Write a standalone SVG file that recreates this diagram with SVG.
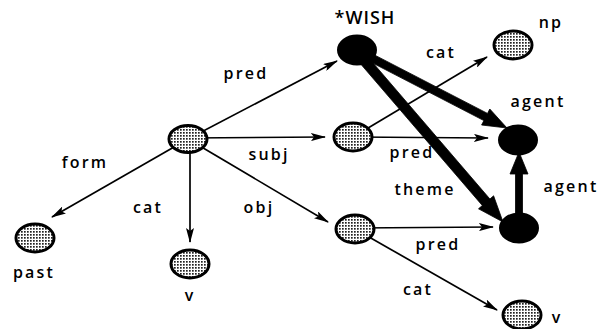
<svg xmlns="http://www.w3.org/2000/svg" width="603" height="329" viewBox="0 0 603 329">
<style>
.lbl{font-family:"Open Sans","DejaVu Sans",sans-serif;font-weight:600;font-size:16px;letter-spacing:2.2px;fill:#000;text-anchor:middle}
.big{font-size:18px;letter-spacing:1px}
.g{fill:url(#dots);stroke:#000;stroke-width:3}
.b{fill:#000;stroke:#000;stroke-width:2}
.thin{stroke:#000;stroke-width:1.7;fill:none;marker-end:url(#ah)}
.thick{fill:#000;stroke:#000;stroke-width:0.8;stroke-linejoin:miter}
</style>
<defs>
<pattern id="dots" width="3" height="3" patternUnits="userSpaceOnUse">
<rect width="3" height="3" fill="#fff"/>
<rect x="0" y="0" width="1.7" height="1.7" fill="#222"/>
</pattern>
<marker id="ah" markerUnits="userSpaceOnUse" viewBox="0 0 15 8" refX="14" refY="4" markerWidth="15" markerHeight="8" orient="auto">
<path d="M0,0 L15,4 L0,8 L3,4 z" fill="#000"/>
</marker>
</defs>
<g id="connectors">
<line class="thin" x1="188" y1="139" x2="337" y2="61"/>
<line class="thin" x1="188" y1="138" x2="325" y2="137"/>
<line class="thin" x1="188" y1="139" x2="52" y2="217"/>
<line class="thin" x1="190" y1="139" x2="190" y2="242"/>
<line class="thin" x1="188" y1="139" x2="328" y2="222"/>
<line class="thin" x1="353" y1="137" x2="487" y2="57"/>
<line class="thin" x1="353" y1="137" x2="488" y2="138"/>
<line class="thin" x1="355" y1="228" x2="493" y2="227"/>
<line class="thin" x1="355" y1="229" x2="497" y2="310"/>
<polygon class="thick" points="358.2,55.6 483.9,120.6 481.6,125 507,128 489.8,109 487.5,113.4 361.8,48.4"/>
<polygon class="thick" points="353.2,55.3 482.3,205.5 478.5,208.8 503,222 493.6,195.8 489.9,199 360.8,48.7"/>
<polygon class="thick" points="515.5,228 515.5,174 510,174 519,152 528,174 522.5,174 522.5,228"/>
</g>
<g id="n-root"><ellipse class="g" cx="188" cy="139" rx="19" ry="13.5"/></g>
<g id="n-wish"><ellipse class="b" cx="357" cy="50" rx="19" ry="14.5"/><text class="lbl big" x="365" y="23.5">*WISH</text></g>
<g id="n-np"><ellipse class="g" cx="513" cy="45" rx="19" ry="14"/><text class="lbl" x="551" y="28">np</text></g>
<g id="n-subj"><ellipse class="g" cx="353" cy="137" rx="19" ry="14"/></g>
<g id="n-agent"><ellipse class="b" cx="518" cy="140" rx="19" ry="14.5"/></g>
<g id="n-obj"><ellipse class="g" cx="355" cy="229" rx="19" ry="14"/></g>
<g id="n-theme"><ellipse class="b" cx="519" cy="228" rx="19" ry="14.5"/></g>
<g id="n-v2"><ellipse class="g" cx="522" cy="315" rx="19" ry="14"/><text class="lbl" x="557" y="323">v</text></g>
<g id="n-past"><ellipse class="g" cx="35" cy="238" rx="19" ry="14"/><text class="lbl" x="34" y="278">past</text></g>
<g id="n-v1"><ellipse class="g" cx="190" cy="264" rx="19" ry="14"/><text class="lbl" x="190" y="301">v</text></g>
<g id="labels">
<text class="lbl" x="246" y="79">pred</text>
<text class="lbl" x="269" y="160">subj</text>
<text class="lbl" x="85" y="168">form</text>
<text class="lbl" x="148" y="213">cat</text>
<text class="lbl" x="259" y="213">obj</text>
<text class="lbl" x="441" y="58">cat</text>
<text class="lbl" x="538" y="107">agent</text>
<text class="lbl" x="412" y="158">pred</text>
<text class="lbl" x="425" y="195">theme</text>
<text class="lbl" x="571" y="192">agent</text>
<text class="lbl" x="438" y="250">pred</text>
<text class="lbl" x="418" y="295">cat</text>
</g>
</svg>
